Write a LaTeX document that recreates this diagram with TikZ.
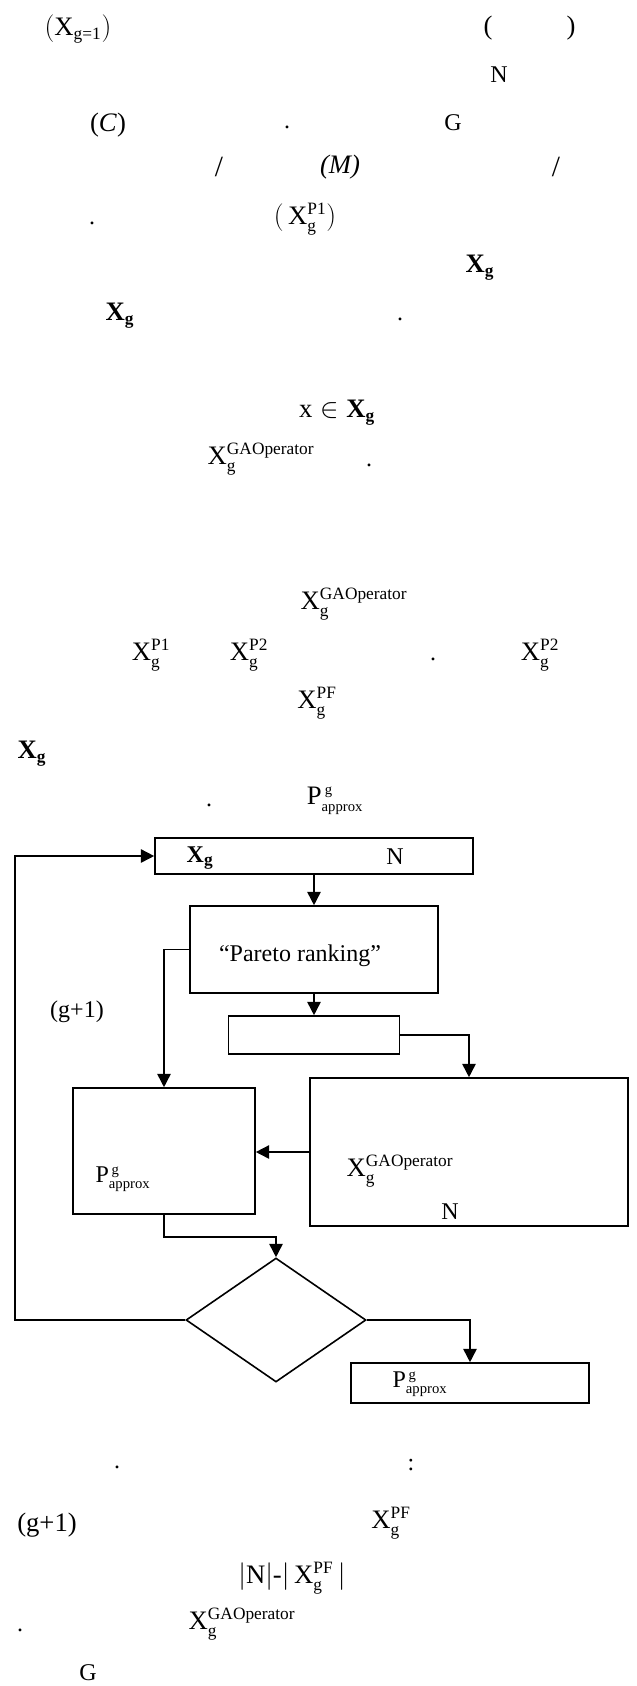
\documentclass[tikz,border=0pt]{standalone}
\usepackage{fontspec}
\setmainfont{Liberation Serif}
\usetikzlibrary{shapes.geometric,arrows.meta}

\newcommand{\sx}[1]{\hbox{\fontsize{13}{13}\selectfont #1}}
\newcommand{\sxb}[1]{\hbox{\fontsize{13}{13}\selectfont\bfseries #1}}
\newcommand{\sy}[1]{\hbox{\fontsize{11}{11}\selectfont #1}}
\newcommand{\Xg}{$\mathbf{X}_{\sxb{g}}$}
\newcommand{\Xs}[1]{$\mathrm{X}_{\sx{g}}^{\sx{#1}}$}
\newcommand{\Pap}{$\mathrm{P}_{\sy{approx}}^{\,\sy{g}}$}

\begin{document}
\begin{tikzpicture}[x=0.75pt,y=-0.75pt,
    font=\fontsize{18}{20}\selectfont,
    every node/.style={inner sep=0pt},
    eq/.style={font=\fontsize{20}{22}\selectfont},
    big/.style={font=\fontsize{22}{24}\selectfont},
    box/.style={draw,line width=1.2pt},
    cond/.style={draw,line width=1.2pt,diamond},
    flow/.style={line width=1.2pt,-{Triangle[length=10pt,width=10pt]}}]
\useasboundingbox (0,0) rectangle (636,1686);

% text above the chart
\node[eq] at (78,29) (x1) {$(\mathrm{X}_{\sx{g=1}})$};
\node[eq] at (488,28) (pl) {(};
\node[eq] at (571,28) (pr) {)};
\node at (499,75) (n1) {N};
\node[eq] at (108,125) (c) {(\textit{C})};
\node at (287,127) (d1) {.};
\node at (453,123) (g1) {G};
\node[big] at (219,167) (s1) {/};
\node[eq] at (340,167) (m) {\textit{(M)}};
\node[big] at (556,167) (s2) {/};
\node at (92,223) (d2) {.};
\node[eq] at (305,219) (xp1) {$(\,\mathrm{X}_{\sx{g}}^{\sx{P1}})$};
\node[eq] at (480,268) (xg1) {\Xg};
\node[eq] at (120,316) (xg2) {\Xg};
\node at (400,319) (d3) {.};
\node[eq] at (337,413) (xin) {$\mathrm{x}\in\mathbf{X}_{\sxb{g}}$};
\node[eq] at (261,459) (ga1) {\Xs{GAOperator}};
\node at (369,465) (d4) {.};
\node[eq] at (354,604) (ga2) {\Xs{GAOperator}};
\node[eq] at (151,655) (p1) {\Xs{P1}};
\node[eq] at (249,655) (p2) {\Xs{P2}};
\node at (433,659) (d5) {.};
\node[eq] at (540,655) (p3) {\Xs{P2}};
\node[eq] at (317,703) (pf1) {\Xs{PF}};
\node[eq] at (32,754) (xg3) {\Xg};
\node at (209,805) (d6) {.};
\node[eq] at (335,801) (pa1) {\Pap};

% chart
\node[box,minimum width=238.5pt,minimum height=27pt] at (314,856) (pop) {};
\node at (200,858) (popX) {\Xg};
\node at (395,857) (popN) {N};
\node[box,minimum width=186pt,minimum height=65.25pt] at (314,949.5) (rank) {};
\node at (300,956) (rankT) {“Pareto ranking”};
\node[box,minimum width=128.25pt,minimum height=28.5pt] at (314,1035) (sel) {};
\node[box,minimum width=136.5pt,minimum height=94.5pt] at (164,1151) (arch) {};
\node at (123,1179) (archP) {\Pap};
\node[box,minimum width=238.5pt,minimum height=111pt] at (469,1152) (ga) {};
\node[eq] at (400,1171) (gaX) {\Xs{GAOperator}};
\node at (450,1212) (gaN) {N};
\node[cond,minimum width=135pt,minimum height=93pt] at (276,1320) (stop) {};
\node[box,minimum width=178.5pt,minimum height=30pt] at (470,1383) (out) {};
\node at (420,1384) (outP) {\Pap};
\node at (77,1012) (gen) {(g+1)};
\coordinate (back) at (15,1320);

\draw[flow] (pop.south) -- (rank.north);
\draw[flow] (rank.south) -- (sel.north);
\draw[flow] (rank.west) -| (arch.north);
\draw[flow] (sel.east) -| (ga.north);
\draw[flow] (ga.west) -- (ga.west -| arch.east);
\draw[flow] (arch.south) -- ++(0,22) -| (stop.north);
\draw[flow] (stop.east) -| (out.north);
\draw[flow] (stop.west) -- (back) |- (pop.west);

% text below the chart
\node at (117,1467) (d7) {.};
\node at (411,1465) (col) {:};
\node[eq] at (47,1525) (gen2) {(g+1)};
\node[eq] at (391,1523) (pf2) {\Xs{PF}};
\node[eq] at (292,1578) (diff) {$|\mathrm{N}|\mbox{-}|\,\mathrm{X}_{\sx{g}}^{\sx{PF}}\,|$};
\node at (20,1630) (d8) {.};
\node[eq] at (242,1624) (ga3) {\Xs{GAOperator}};
\node at (88,1673) (g2) {G};
\end{tikzpicture}
\end{document}
